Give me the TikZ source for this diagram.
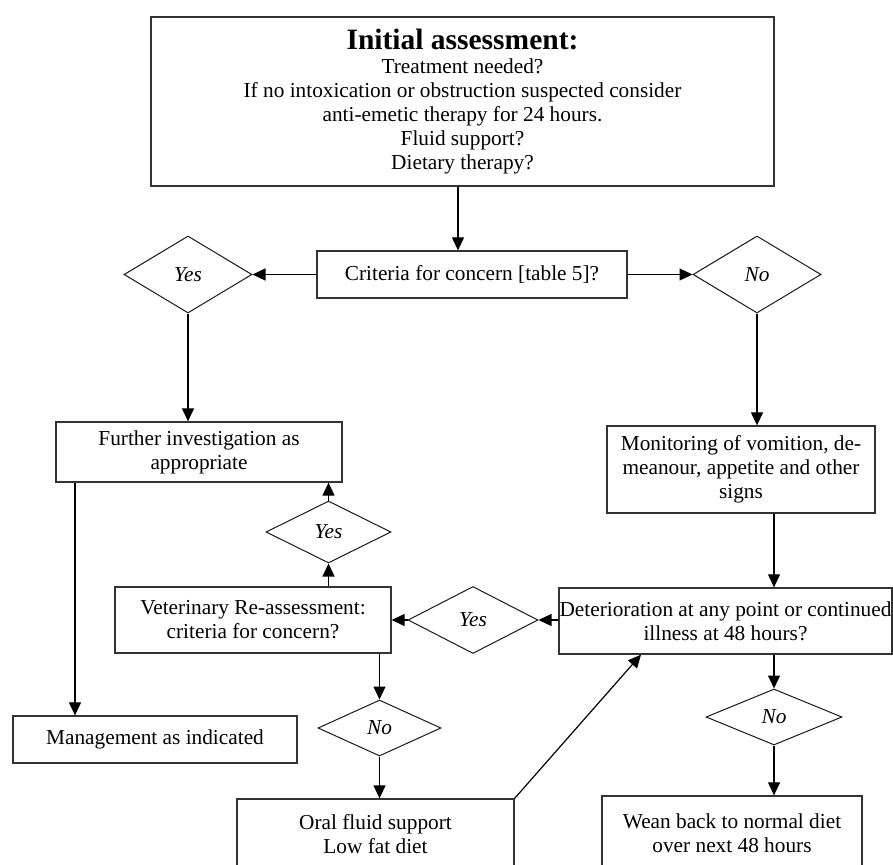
\documentclass[tikz,border=0pt]{standalone}
\usepackage{fontspec}
\setmainfont{Liberation Serif}
\usetikzlibrary{shapes.geometric,arrows.meta}
\begin{document}
\begin{tikzpicture}[x=1pt,y=-1pt,
  every node/.style={font=\fontsize{21.3}{24}\selectfont},
  box/.style={draw=black!80, line width=1.3pt, align=center, inner sep=0pt},
  dia/.style={draw=black!90, line width=1pt, shape=diamond, inner sep=0pt,
              font=\fontsize{21.3}{24}\selectfont\itshape},
  arr/.style={line width=1.2pt, -{Triangle[length=13pt,width=12pt]}},
  ln/.style={line width=1.2pt}]
\useasboundingbox (0,0) rectangle (893,864);

% helper coordinates
\coordinate (xA) at (458,0);
\coordinate (xB) at (75,0);
\coordinate (xC) at (641,0);

% nodes
\node[box, minimum width=623pt, minimum height=169pt] (top) at (462.5,101.5)
  {{\fontsize{29.5}{24}\selectfont\bfseries Initial assessment:}\\Treatment needed?\\If no intoxication or obstruction suspected consider\\anti-emetic therapy for 24 hours.\\Fluid support?\\Dietary therapy?};
\node[box, minimum width=310pt, minimum height=47pt] (crit) at (472,274.5) {Criteria for concern [table 5]?};
\node[dia, minimum width=128pt, minimum height=77pt] (yesA) at (188,274.5) {Yes};
\node[dia, minimum width=128pt, minimum height=77pt] (noA) at (757,274.5) {No};
\node[box, minimum width=286pt, minimum height=60pt] (fur) at (199,452) {Further investigation as\\appropriate};
\node[box, minimum width=268pt, minimum height=87pt] (mon) at (741,469.5) {Monitoring of vomition, de-\\meanour, appetite and other\\signs};
\node[box, minimum width=333pt, minimum height=66pt] (det) at (725.5,621) {Deterioration at any point or continued\\illness at 48 hours?};
\node[dia, minimum width=130pt, minimum height=67pt] (yesB) at (473,620) {Yes};
\node[box, minimum width=276pt, minimum height=66pt] (vet) at (253,620) {Veterinary Re-assessment:\\criteria for concern?};
\node[dia, minimum width=125pt, minimum height=62pt] (yesC) at (328.5,532) {Yes};
\node[box, minimum width=284pt, minimum height=47pt] (mgmt) at (155,739.5) {Management as indicated};
\node[dia, minimum width=123pt, minimum height=56pt] (noC) at (379.5,728) {No};
\node[box, minimum width=277pt, minimum height=71pt] (oral) at (375.5,834.5) {Oral fluid support\\Low fat diet};
\node[dia, minimum width=136pt, minimum height=56pt] (noD) at (774,717) {No};
\node[box, minimum width=260pt, minimum height=74pt] (wean) at (732,833) {Wean back to normal diet\\over next 48 hours};

% connectors
\draw[arr] (top.south -| xA) -- (crit.north -| xA);
\draw[arr] (crit.west) -- (yesA.east);
\draw[arr] (crit.east) -- (noA.west);
\draw[arr] (yesA.south) -- (fur.north -| yesA.south);
\draw[arr] (noA.south) -- (mon.north -| noA.south);
\draw[arr] (mon.south -| noD.north) -- (det.north -| noD.north);
\draw[arr] (det.west |- yesB.east) -- (yesB.east);
\draw[arr] (yesB.west) -- (vet.east |- yesB.west);
\draw[arr] (vet.north -| yesC.south) -- (yesC.south);
\draw[arr] (yesC.north) -- (fur.south -| yesC.north);
\draw[arr] (fur.south -| xB) -- (mgmt.north -| xB);
\draw[arr] (vet.south -| noC.north) -- (noC.north);
\draw[arr] (noC.south) -- (oral.north -| noC.south);
\draw[arr] (oral.north east) -- (det.south -| xC);
\draw[arr] (det.south -| noD.north) -- (noD.north);
\draw[arr] (noD.south) -- (wean.north -| noD.south);
\end{tikzpicture}
\end{document}
